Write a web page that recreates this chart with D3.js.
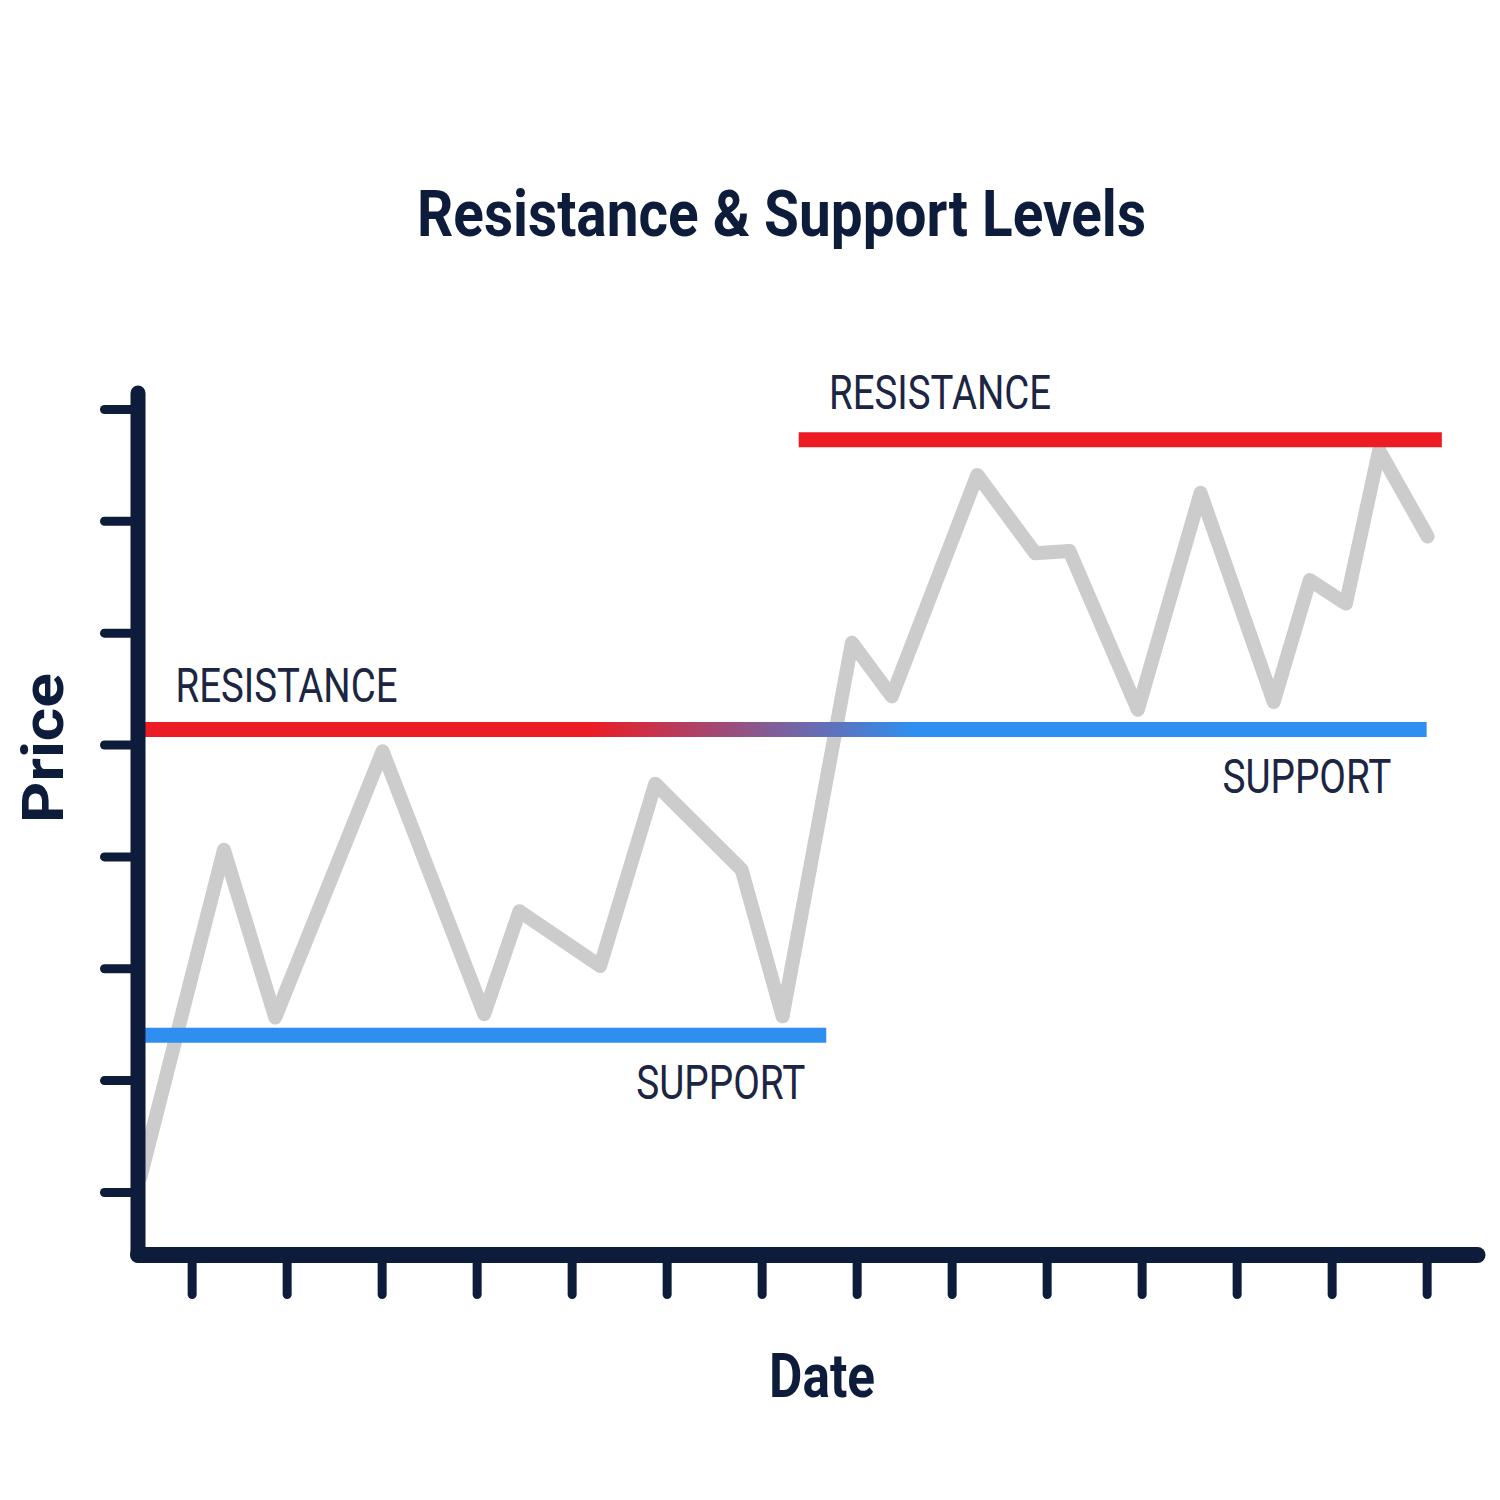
<!DOCTYPE html>
<html>
<head>
<meta charset="utf-8">
<script src="https://cdn.jsdelivr.net/npm/d3@7"></script>
<style>
  html, body { margin: 0; padding: 0; background: #ffffff; }
  svg { display: block; }
</style>
</head>
<body>
<svg id="chart" width="1500" height="1500"></svg>
<script>
// ---------------- DATA ----------------
// Date index (tick positions 1..14) and price (ticks 10..80)
const dateValues  = [0.46, 1.34, 1.88, 3.01, 4.08, 4.45, 5.30, 5.88, 6.79, 7.22, 7.95, 8.37, 9.27, 9.88, 10.24, 10.96, 11.62, 12.39, 12.77, 13.15, 13.50, 14.01];
const priceValues = [11.3, 40.6, 25.6, 49.4, 25.9, 35.1, 30.2, 46.5, 38.8, 25.7, 59.1, 54.3, 74.1, 67.1, 67.3, 53.1, 72.5, 53.8, 64.7, 62.6, 76.3, 68.6];

const dateTicks  = [1, 2, 3, 4, 5, 6, 7, 8, 9, 10, 11, 12, 13, 14];
const priceTicks = [10, 20, 30, 40, 50, 60, 70, 80];
const dateDomain  = [0.43, 14.53];
const priceDomain = [4.41, 81.47];

// Levels: [name, price, fromDate, toDate]
const levelNames  = ["support-low", "flip", "resistance-high"];
const levelPrices = [24.0, 51.35, 77.25];
const levelFrom   = [0.50, 0.50, 7.39];
const levelTo     = [7.68, 14.00, 14.16];
// Where the middle level turns from resistance (red) into support (blue)
const flipFrom = 5.2;
const flipTo   = 8.6;

// Labels
const labelTexts  = ["RESISTANCE", "SUPPORT", "RESISTANCE", "SUPPORT"];
const labelDates  = [0.83, 5.68, 7.71, 11.85];
const labelPrices = [53.8, 18.3, 80.0, 45.7];

const titleText = "Resistance & Support Levels";
const xTitle = "Date";
const yTitle = "Price";

// ---------------- STYLE ----------------
const NAVY = "#0c1c3a";
const LABEL = "#1c2542";
const RED = "#ec1c24";
const BLUE = "#2f8ff0";
const GREY = "#cccccc";

const svg = d3.select("#chart");

const x = d3.scaleLinear().domain(dateDomain).range([137.5, 1477]);
const y = d3.scaleLinear().domain(priceDomain).range([1254.5, 392.5]);

// gradient for the flipping level
const defs = svg.append("defs");
const grad = defs.append("linearGradient")
  .attr("id", "flipGrad")
  .attr("gradientUnits", "userSpaceOnUse")
  .attr("x1", x(flipFrom)).attr("x2", x(flipTo))
  .attr("y1", 0).attr("y2", 0);
grad.append("stop").attr("offset", "0%").attr("stop-color", RED);
grad.append("stop").attr("offset", "100%").attr("stop-color", BLUE);

// Title
svg.append("text")
  .attr("x", 417).attr("y", 236)
  .attr("textLength", 729)
  .attr("lengthAdjust", "spacingAndGlyphs")
  .style("font-family", "Roboto, 'DejaVu Sans', sans-serif")
  .style("font-weight", 700)
  .style("font-size", "65px")
  .style("fill", NAVY)
  .text(titleText);

// Price line
const pts = dateValues.map((d, i) => [d, priceValues[i]]);
svg.append("path")
  .datum(pts)
  .attr("fill", "none")
  .attr("stroke", GREY)
  .attr("stroke-width", 14)
  .attr("stroke-linejoin", "round")
  .attr("stroke-linecap", "round")
  .attr("d", d3.line().x(d => x(d[0])).y(d => y(d[1])));

// Levels
const levelColors = [BLUE, "url(#flipGrad)", RED];
svg.selectAll("line.level")
  .data(levelNames)
  .join("line")
  .attr("class", "level")
  .attr("x1", (d, i) => x(levelFrom[i]))
  .attr("x2", (d, i) => x(levelTo[i]))
  .attr("y1", (d, i) => y(levelPrices[i]))
  .attr("y2", (d, i) => y(levelPrices[i]))
  .attr("stroke", (d, i) => levelColors[i])
  .attr("stroke-width", 15);

// Level labels
svg.selectAll("text.lbl")
  .data(labelTexts)
  .join("text")
  .attr("class", "lbl")
  .attr("x", (d, i) => x(labelDates[i]))
  .attr("y", (d, i) => y(labelPrices[i]))
  .attr("textLength", d => d === "RESISTANCE" ? 222 : 169)
  .attr("lengthAdjust", "spacingAndGlyphs")
  .style("font-family", "Roboto, 'DejaVu Sans', sans-serif")
  .style("font-weight", 400)
  .style("font-size", "49px")
  .style("fill", LABEL)
  .text(d => d);

// Axes
const yAxis = d3.axisLeft(y).tickValues(priceTicks).tickSize(33).tickSizeOuter(0).tickFormat("");
const gy = svg.append("g").attr("transform", "translate(137.5,0)").call(yAxis);
gy.select(".domain").attr("stroke", NAVY).attr("stroke-width", 15).attr("stroke-linecap", "round");
gy.selectAll(".tick line").attr("stroke", NAVY).attr("stroke-width", 9).attr("stroke-linecap", "round");

const xAxis = d3.axisBottom(x).tickValues(dateTicks).tickSize(40).tickSizeOuter(0).tickFormat("");
const gx = svg.append("g").attr("transform", "translate(0,1254.5)").call(xAxis);
gx.select(".domain").attr("stroke", NAVY).attr("stroke-width", 16).attr("stroke-linecap", "round");
gx.selectAll(".tick line").attr("stroke", NAVY).attr("stroke-width", 9).attr("stroke-linecap", "round");
gx.selectAll(".tick line").attr("y1", 8);
gy.selectAll(".tick line").attr("x1", -7);

// Axis titles
svg.append("text")
  .attr("x", 822).attr("y", 1397)
  .attr("text-anchor", "middle")
  .attr("textLength", 106)
  .attr("lengthAdjust", "spacingAndGlyphs")
  .style("font-family", "Roboto, 'DejaVu Sans', sans-serif")
  .style("font-weight", 700)
  .style("font-size", "62px")
  .style("fill", NAVY)
  .text(xTitle);

svg.append("text")
  .attr("transform", "translate(63,748) rotate(-90)")
  .attr("text-anchor", "middle")
  .attr("textLength", 150)
  .attr("lengthAdjust", "spacingAndGlyphs")
  .style("font-family", "Roboto, 'DejaVu Sans', sans-serif")
  .style("font-weight", 700)
  .style("font-size", "57px")
  .style("fill", NAVY)
  .text(yTitle);
</script>
</body>
</html>
